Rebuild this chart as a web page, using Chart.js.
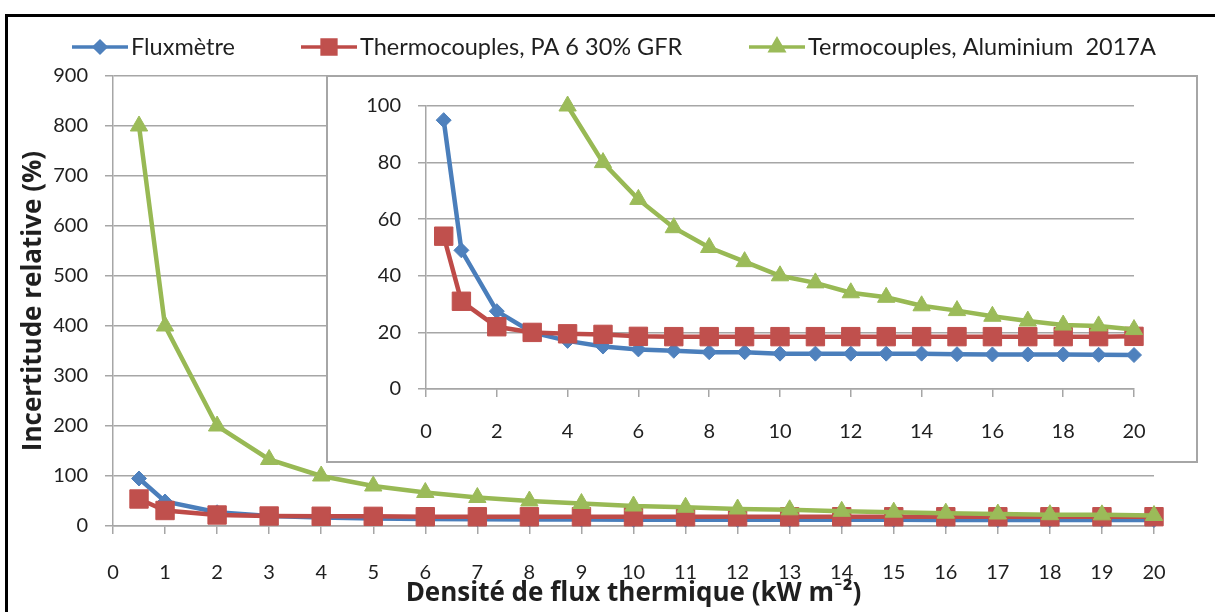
<!DOCTYPE html>
<html>
<head>
<meta charset="utf-8">
<script src="https://cdn.jsdelivr.net/npm/chart.js@4"></script>
<style>
  html, body { margin: 0; padding: 0; background: #fff; }
  #wrap { position: relative; width: 1215px; height: 612px; overflow: hidden; background: #fff; }
  #frame { position: absolute; left: 5px; top: 14px; width: 1230px; height: 640px; border: 3px solid #000; box-sizing: border-box; }
  #main { position: absolute; left: 0; top: 0; }
  #insetBox { position: absolute; left: 326px; top: 75px; width: 872px; height: 388px; border: 2px solid #a6a6a6; box-sizing: border-box; background: #fff; }
  #inset { display: block; }
</style>
</head>
<body>
<div id="wrap">
  <canvas id="main" width="1215" height="612"></canvas>
  <div id="frame"></div>
  <div id="insetBox"><canvas id="inset" width="868" height="384"></canvas></div>
</div>
<script>
// heat flux density (kW m-2)
const xValues = [0.5, 1, 2, 3, 4, 5, 6, 7, 8, 9, 10, 11, 12, 13, 14, 15, 16, 17, 18, 19, 20];

// relative uncertainty (%)
const fluxmetre = [95, 49, 27.5, 20, 17, 15, 14, 13.5, 13, 13, 12.5, 12.5, 12.5, 12.5, 12.5, 12.3, 12.2, 12.2, 12.2, 12.1, 12];
const thermoPA6 = [54, 31, 22, 20, 19.5, 19.3, 18.6, 18.5, 18.5, 18.5, 18.5, 18.5, 18.5, 18.5, 18.5, 18.5, 18.5, 18.5, 18.5, 18.5, 18.6];
const thermoAlu = [800, 400, 200, 133, 100, 80, 67, 57, 50, 45, 40, 37.5, 34, 32.4, 29.4, 27.7, 25.7, 24, 22.6, 22.3, 21];

const seriesNames = ['Fluxmètre', 'Thermocouples, PA 6 30% GFR', 'Termocouples, Aluminium  2017A'];

const mainXTicks = [0, 1, 2, 3, 4, 5, 6, 7, 8, 9, 10, 11, 12, 13, 14, 15, 16, 17, 18, 19, 20];
const mainYTicks = [0, 100, 200, 300, 400, 500, 600, 700, 800, 900];
const insetXTicks = [0, 2, 4, 6, 8, 10, 12, 14, 16, 18, 20];
const insetYTicks = [0, 20, 40, 60, 80, 100];

const lineColors = ['#4a7ebb', '#be4b48', '#98b954'];
const markerColors = ['#4f81bd', '#c0504d', '#9bbb59'];
const markerStyles = ['rectRot', 'rect', 'triangle'];
const markerSizes = [7.5, 13, 10];

const FONT = 'Lato, "Open Sans", sans-serif';
const TITLE_FONT = '"Open Sans", Lato, sans-serif';
const TEXT = '#1f1f1f';
const GRID = '#a6a6a6';

function makeDatasets(maxY) {
    return [fluxmetre, thermoPA6, thermoAlu].map((vals, i) => ({
        label: seriesNames[i],
        data: xValues.map((x, j) => ({ x: x, y: vals[j] })).filter(p => p.y <= maxY),
        borderColor: lineColors[i],
        backgroundColor: markerColors[i],
        pointBorderColor: markerColors[i],
        pointBackgroundColor: markerColors[i],
        pointStyle: markerStyles[i],
        pointRadius: markerSizes[i],
        pointBorderWidth: 1,
        borderWidth: 4.5,
        tension: 0,
        clip: false,
        order: 2 - i,
    }));
}

function axis(ticksList, opts) {
    return {
        type: 'linear',
        min: ticksList[0],
        max: ticksList[ticksList.length - 1],
        afterBuildTicks: (a) => { a.ticks = ticksList.map(v => ({ value: v })); },
        afterFit: opts.fit,
        grid: {
            color: GRID,
            lineWidth: 1.5,
            tickLength: 8,
            drawOnChartArea: opts.gridOn,
        },
        border: { display: true, color: GRID, width: 1.5 },
        ticks: {
            autoSkip: false,
            maxRotation: 0,
            padding: opts.pad,
            color: TEXT,
            font: { family: FONT, size: 20 },
        },
        title: opts.title || { display: false },
    };
}

const excelLegend = {
    id: 'excelLegend',
    afterDraw(chart) {
        const ctx = chart.ctx;
        const starts = [72, 301, 749];
        const y = 47;
        chart.data.datasets.forEach((ds, i) => {
            const x0 = starts[i];
            ctx.save();
            ctx.strokeStyle = ds.borderColor;
            ctx.lineWidth = 3.5;
            ctx.beginPath();
            ctx.moveTo(x0, y);
            ctx.lineTo(x0 + 56, y);
            ctx.stroke();
            ctx.fillStyle = ds.pointBackgroundColor;
            ctx.strokeStyle = ds.pointBorderColor;
            Chart.helpers.drawPoint(ctx, {
                pointStyle: ds.pointStyle,
                radius: ds.pointRadius * 0.75,
                borderWidth: 1,
                rotation: 0,
            }, x0 + 28, y);
            ctx.fillStyle = TEXT;
            ctx.font = '23.5px ' + FONT;
            ctx.textBaseline = 'middle';
            ctx.fillText(ds.label, x0 + 59, y);
            ctx.restore();
        });
    }
};

new Chart(document.getElementById('main'), {
    type: 'line',
    data: { datasets: makeDatasets(900) },
    plugins: [excelLegend],
    options: {
        responsive: false,
        animation: false,
        events: [],
        layout: { padding: { top: 76, right: 61, bottom: 0, left: 0 } },
        plugins: { legend: { display: false }, tooltip: { enabled: false } },
        scales: {
            x: axis(mainXTicks, {
                fit: (s) => { s.height = 86; },
                gridOn: false,
                pad: 27,
                title: {
                    display: true,
                    text: 'Densité de flux thermique (kW m⁻²)',
                    color: TEXT,
                    font: { family: TITLE_FONT, size: 26, weight: 'bold' },
                    padding: { top: 0, bottom: 3 },
                },
            }),
            y: axis(mainYTicks, {
                fit: (s) => { s.width = 113; },
                gridOn: true,
                pad: 17,
                title: {
                    display: true,
                    text: 'Incertitude relative (%)',
                    color: TEXT,
                    font: { family: TITLE_FONT, size: 26, weight: 'bold' },
                    padding: { top: 18, bottom: 0 },
                },
            }),
        },
    },
});

new Chart(document.getElementById('inset'), {
    type: 'line',
    data: { datasets: makeDatasets(100) },
    options: {
        responsive: false,
        animation: false,
        events: [],
        layout: { padding: { top: 16, right: 62, bottom: 0, left: 0 } },
        plugins: { legend: { display: false }, tooltip: { enabled: false } },
        scales: {
            x: axis(insetXTicks, { fit: (s) => { s.height = 72; }, gridOn: false, pad: 23 }),
            y: axis(insetYTicks, { fit: (s) => { s.width = 98; }, gridOn: true, pad: 17 }),
        },
    },
});
</script>
</body>
</html>
